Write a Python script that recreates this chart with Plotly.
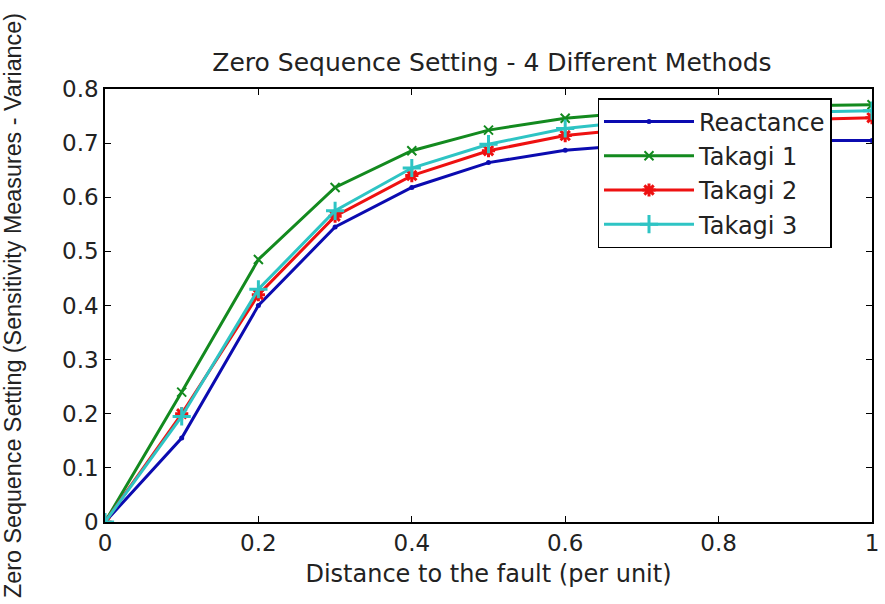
import plotly.graph_objects as go

distance = [0, 0.1, 0.2, 0.3, 0.4, 0.5, 0.6, 0.7, 0.8, 0.9, 1.0]
reactance = [0, 0.155, 0.40, 0.545, 0.618, 0.664, 0.687, 0.698, 0.703, 0.705, 0.705]
takagi1 = [0, 0.24, 0.485, 0.618, 0.686, 0.724, 0.746, 0.758, 0.765, 0.769, 0.771]
takagi2 = [0, 0.20, 0.42, 0.565, 0.640, 0.686, 0.714, 0.728, 0.737, 0.743, 0.747]
takagi3 = [0, 0.195, 0.43, 0.575, 0.654, 0.698, 0.727, 0.742, 0.751, 0.757, 0.760]

x_ticks = [0, 0.2, 0.4, 0.6, 0.8, 1]
x_tick_labels = ["0", "0.2", "0.4", "0.6", "0.8", "1"]
y_ticks = [0, 0.1, 0.2, 0.3, 0.4, 0.5, 0.6, 0.7, 0.8]
y_tick_labels = ["0", "0.1", "0.2", "0.3", "0.4", "0.5", "0.6", "0.7", "0.8"]

FONT = "DejaVu Sans"
TXT = "#222222"

series = [
    ("Reactance", reactance, "#0b0bb0", "circle", 5, 0),
    ("Takagi 1", takagi1, "#138a1f", "x-thin-open", 9, 2),
    ("Takagi 2", takagi2, "#ee1111", "asterisk-open", 11, 3),
    ("Takagi 3", takagi3, "#2ec4c4", "cross-thin-open", 13, 3),
]

fig = go.Figure()
for name, vals, color, sym, size, lw in series:
    fig.add_trace(go.Scatter(
        x=distance, y=vals, name=name, mode="lines+markers",
        line=dict(color=color, width=3),
        marker=dict(symbol=sym, size=size, color=color,
                    line=dict(color=color, width=lw)),
    ))

axis_common = dict(
    showline=True, linecolor="black", linewidth=1.5, mirror="ticks",
    ticks="inside", ticklen=6, tickcolor="black", showgrid=False,
    zeroline=False, tickfont=dict(family=FONT, size=23, color=TXT),
    ticklabeloverflow="allow",
)

fig.update_layout(
    width=885, height=604,
    margin=dict(l=105, r=6, t=89, b=82),
    paper_bgcolor="white", plot_bgcolor="white",
    title=dict(text="Zero Sequence Setting - 4 Different Methods",
               x=(105 + 879) / 2 / 885, xanchor="center",
               y=1 - 62 / 604, yanchor="middle",
               font=dict(family=FONT, size=25, color=TXT)),
    xaxis=dict(range=[0, 1], tickvals=x_ticks, ticktext=x_tick_labels,
               title=dict(text="Distance to the fault (per unit)",
                          font=dict(family=FONT, size=24, color=TXT), standoff=10),
               **axis_common),
    yaxis=dict(range=[0, 0.8], tickvals=y_ticks, ticktext=y_tick_labels,
               title=dict(text="Zero Sequence Setting (Sensitivity Measures - Variance)",
                          font=dict(family="Liberation Sans", size=23.3, color=TXT), standoff=34),
               **axis_common),
    legend=dict(x=(602 - 105) / 774, y=(522 - 98) / 433, xanchor="left", yanchor="top",
                bgcolor="white", bordercolor="black", borderwidth=1.5,
                font=dict(family=FONT, size=24, color=TXT),
                itemwidth=90, tracegroupgap=0),
    showlegend=True,
)

fig.write_html("out.html")
